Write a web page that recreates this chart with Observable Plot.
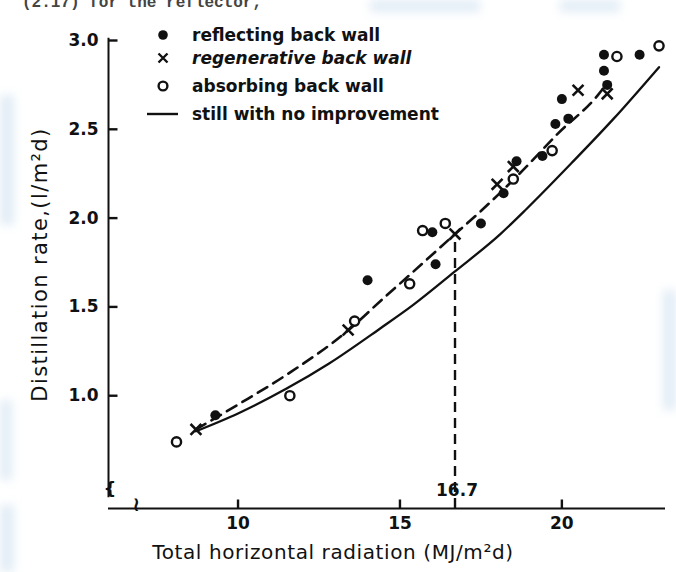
<!DOCTYPE html>
<html><head><meta charset="utf-8">
<script src="https://cdn.jsdelivr.net/npm/d3@7"></script>
<script src="https://cdn.jsdelivr.net/npm/@observablehq/plot@0.6"></script>
<style>
html,body{margin:0;padding:0;background:#fff;}
#wrap{position:relative;width:676px;height:572px;overflow:hidden;font-family:"DejaVu Sans","Liberation Sans",sans-serif;color:#111;}
#wrap svg{position:absolute;left:0;top:0;}
.blot{position:absolute;background:#e2edf6;filter:blur(5px);}
#scrap{position:absolute;left:22px;top:-6px;font-family:"Liberation Mono","DejaVu Sans Mono",monospace;font-size:16px;font-weight:bold;color:#444;white-space:nowrap;}
#legend{position:absolute;left:0;top:0;width:676px;height:140px;pointer-events:none;}
.lrow{position:absolute;left:192px;font-size:17px;font-weight:600;line-height:20px;white-space:nowrap;transform:translateY(-10px);}
.lsym{position:absolute;}
</style></head>
<body>
<div id="wrap">
  <div class="blot" style="left:0;top:95px;width:14px;height:130px;"></div>
  <div class="blot" style="left:0;top:400px;width:12px;height:80px;"></div>
  <div class="blot" style="left:0;top:505px;width:14px;height:67px;"></div>
  <div class="blot" style="left:663px;top:290px;width:13px;height:120px;"></div>
  <div class="blot" style="left:370px;top:0;width:110px;height:12px;"></div>
  <div class="blot" style="left:560px;top:0;width:60px;height:12px;"></div>
  <div id="scrap">(2.17) for the reflector,</div>
</div>
<script>
// ---- data ----
const reflectX = [9.3, 14.0, 16.0, 16.1, 17.5, 18.2, 18.6, 19.4, 19.8, 20.2, 20.0, 21.3, 21.3, 21.4, 22.4];
const reflectY = [0.89, 1.65, 1.92, 1.74, 1.97, 2.14, 2.32, 2.35, 2.53, 2.56, 2.67, 2.92, 2.83, 2.75, 2.92];

const regenX = [8.7, 13.4, 16.7, 18.0, 18.5, 20.5, 21.4];
const regenY = [0.81, 1.37, 1.91, 2.19, 2.29, 2.72, 2.70];

const absorbX = [8.1, 11.6, 13.6, 15.3, 15.7, 16.4, 18.5, 19.7, 21.7, 23.0];
const absorbY = [0.74, 1.00, 1.42, 1.63, 1.93, 1.97, 2.22, 2.38, 2.91, 2.97];

const fitX = [8.7, 10, 11.6, 13.35, 14.5, 15.3, 16.7, 17.5, 18.8, 19.9, 21.1, 21.4];
const fitY = [0.81, 0.95, 1.13, 1.36, 1.55, 1.68, 1.91, 2.04, 2.27, 2.48, 2.69, 2.76];

const stillX = [8.7, 10, 11.5, 12.8, 14.4, 15.4, 16.7, 18.1, 18.9, 20.3, 21.6, 23.0];
const stillY = [0.80, 0.90, 1.04, 1.18, 1.38, 1.51, 1.70, 1.91, 2.05, 2.31, 2.56, 2.85];

const markX = 16.7;
const markY = 1.91;
const markLabel = "16.7";

const xTicks = [10, 15, 20];
const xTickLabels = ["10", "15", "20"];
const yTicks = [1.0, 1.5, 2.0, 2.5, 3.0];
const yTickLabels = ["1.0", "1.5", "2.0", "2.5", "3.0"];

const xDomain = [6, 23.2];
const yDomain = [0.365, 3.0];

const xTitle = "Total horizontal radiation (MJ/m²d)";
const yTitle = "Distillation rate,(l/m²d)";

const legendItems = [
  {label: "reflecting back wall", kind: "filled"},
  {label: "regenerative back wall", kind: "cross"},
  {label: "absorbing back wall", kind: "open"},
  {label: "still with no improvement", kind: "line"}
];

// ---- build tables ----
const zip = (xs, ys) => xs.map((x, i) => ({x, y: ys[i]}));
const reflect = zip(reflectX, reflectY);
const regen = zip(regenX, regenY);
const absorb = zip(absorbX, absorbY);
const fit = zip(fitX, fitY);
const still = zip(stillX, stillY);

const ink = "#111";
const font = '"DejaVu Sans","Liberation Sans",sans-serif';
const tickLenX = (xDomain[1] - xDomain[0]) * 9 / 557;
const tickLenY = (yDomain[1] - yDomain[0]) * 9 / 468;

const chart = Plot.plot({
  width: 676, height: 572,
  marginLeft: 108, marginRight: 11, marginTop: 40, marginBottom: 64,
  x: {domain: xDomain},
  y: {domain: yDomain},
  style: {fontFamily: font, fontSize: "17px", color: ink, background: "transparent", overflow: "visible"},
  marks: [
    Plot.ruleX([xDomain[0]], {stroke: ink, strokeWidth: 2, y1: yDomain[0] + 0.06, y2: yDomain[1] + 0.012}),
    Plot.ruleY([yDomain[0]], {stroke: ink, strokeWidth: 2}),
    Plot.link(yTicks, {x1: () => xDomain[0], x2: () => xDomain[0] + tickLenX, y1: d => d, y2: d => d,
      stroke: ink, strokeWidth: 2.4, strokeLinecap: "butt"}),
    Plot.link(xTicks, {x1: d => d, x2: d => d, y1: () => yDomain[0], y2: () => yDomain[0] + tickLenY,
      stroke: ink, strokeWidth: 2.4, strokeLinecap: "butt"}),
    Plot.axisY({ticks: yTicks, tickFormat: d => yTickLabels[yTicks.indexOf(d)], tickSize: 0, tickPadding: 10,
      fill: ink, fontWeight: 600, fontSize: 17, label: null}),
    Plot.axisX({ticks: xTicks, tickFormat: d => xTickLabels[xTicks.indexOf(d)], tickSize: 0, tickPadding: 8,
      fill: ink, fontWeight: 600, fontSize: 17, label: null}),
    Plot.text(["≀"], {frameAnchor: "bottom-left", dx: 24, dy: 2, text: d => d, fill: ink, fontSize: 20, fontWeight: 700}),
    Plot.text(["{"], {frameAnchor: "bottom-left", dx: -5, dy: -14, text: d => d, fill: ink, fontSize: 18, fontWeight: 700}),
    Plot.line(still, {x: "x", y: "y", stroke: ink, strokeWidth: 2.3, curve: "monotone-x"}),
    Plot.line(fit, {x: "x", y: "y", stroke: ink, strokeWidth: 2.6, strokeDasharray: "11,7", curve: "monotone-x"}),
    Plot.ruleX([markX], {y1: yDomain[0], y2: markY, stroke: ink, strokeWidth: 2.4, strokeDasharray: "10,6"}),
    Plot.text([markLabel], {x: markX, frameAnchor: "bottom", dy: -13, dx: 2, text: d => d, fill: ink, fontSize: 17, fontWeight: 600}),
    Plot.dot(absorb, {x: "x", y: "y", r: 4.6, fill: "white", stroke: ink, strokeWidth: 2.4}),
    Plot.dot(reflect, {x: "x", y: "y", r: 5, fill: ink, stroke: "none"}),
    Plot.dot(regen, {x: "x", y: "y", r: 5, symbol: "times", stroke: ink, strokeWidth: 2.6}),
    Plot.text([xTitle], {frameAnchor: "bottom", dy: 50, dx: -54, text: d => d, fill: ink, fontSize: 20, fontWeight: 500, textAnchor: "middle"}),
    Plot.text([yTitle], {frameAnchor: "left", dx: -68, dy: -10, rotate: -90, text: d => d, fill: ink, fontSize: 21, fontWeight: 500, textAnchor: "middle"})
  ]
});

const wrap = document.getElementById("wrap");
wrap.appendChild(chart);
// letter spacing on the axis titles, like the lettering of the original
d3.select(chart).selectAll("text").filter(function() { return this.textContent === xTitle; })
  .style("letter-spacing", "0.6px");
d3.select(chart).selectAll("text").filter(function() { return this.textContent === yTitle; })
  .style("letter-spacing", "1.4px");

// ---- legend (HTML overlay) ----
const legend = document.createElement("div");
legend.id = "legend";
const rowY = [35, 58, 86, 114];
legendItems.forEach((it, i) => {
  const row = document.createElement("div");
  row.className = "lrow";
  row.style.top = rowY[i] + "px";
  if (it.kind === "cross") row.style.fontStyle = "italic";
  row.textContent = it.label;
  legend.appendChild(row);
  const ns = "http://www.w3.org/2000/svg";
  const s = document.createElementNS(ns, "svg");
  s.setAttribute("class", "lsym");
  s.setAttribute("width", 40); s.setAttribute("height", 20);
  s.style.left = "143px"; s.style.top = (rowY[i] - 10) + "px";
  let el;
  if (it.kind === "filled") {
    el = document.createElementNS(ns, "circle");
    el.setAttribute("cx", 20); el.setAttribute("cy", 10); el.setAttribute("r", 4.8); el.setAttribute("fill", ink);
  } else if (it.kind === "open") {
    el = document.createElementNS(ns, "circle");
    el.setAttribute("cx", 20); el.setAttribute("cy", 10); el.setAttribute("r", 4.4);
    el.setAttribute("fill", "white"); el.setAttribute("stroke", ink); el.setAttribute("stroke-width", 2.4);
  } else if (it.kind === "cross") {
    el = document.createElementNS(ns, "path");
    el.setAttribute("d", "M15.5,5.5L24.5,14.5M24.5,5.5L15.5,14.5");
    el.setAttribute("stroke", ink); el.setAttribute("stroke-width", 2.4);
  } else {
    el = document.createElementNS(ns, "path");
    el.setAttribute("d", "M4,10H35");
    el.setAttribute("stroke", ink); el.setAttribute("stroke-width", 2.4);
  }
  s.appendChild(el);
  legend.appendChild(s);
});
wrap.appendChild(legend);
</script>
</body></html>
